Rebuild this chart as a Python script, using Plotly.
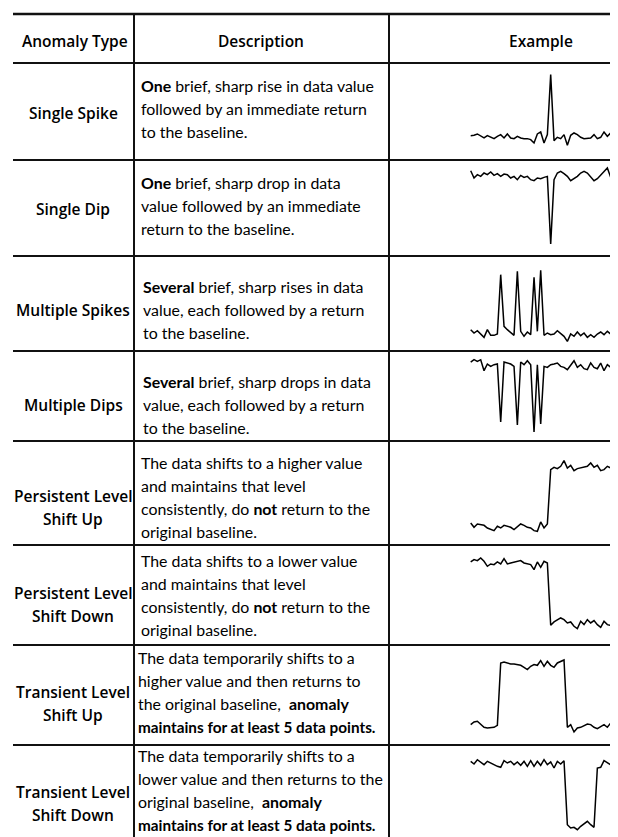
import plotly.graph_objects as go

# ---------------- DATA ----------------
headers = ["Anomaly Type", "Description", "Example"]

anomaly_types = [
    ["Single Spike"],
    ["Single Dip"],
    ["Multiple Spikes"],
    ["Multiple Dips"],
    ["Persistent Level", "Shift Up"],
    ["Persistent Level", "Shift Down"],
    ["Transient Level", "Shift Up"],
    ["Transient Level", "Shift Down"],
]

descriptions = [
    ["<b>One</b> brief, sharp rise in data value",
     "followed by an immediate return",
     "to the baseline."],
    ["<b>One</b> brief, sharp drop in data",
     "value followed by an immediate",
     "return to the baseline."],
    ["<b>Several</b> brief, sharp rises in data",
     "value, each followed by a return",
     "to the baseline."],
    ["<b>Several</b> brief, sharp drops in data",
     "value, each followed by a return",
     "to the baseline."],
    ["The data shifts to a higher value",
     "and maintains that level",
     "consistently, do <b>not</b> return to the",
     "original baseline."],
    ["The data shifts to a lower value",
     "and maintains that level",
     "consistently, do <b>not</b> return to the",
     "original baseline."],
    ["The data temporarily shifts to a",
     "higher value and then returns to",
     "the original baseline,  <b>anomaly</b>",
     "<b>maintains for at least 5 data points.</b>"],
    ["The data temporarily shifts to a",
     "lower value and then returns to the",
     "original baseline,  <b>anomaly</b>",
     "<b>maintains for at least 5 data points.</b>"],
]

single_spike = [2, 3, 7, 0, -5, 2, -3, -7, 0, 5, -5, 7, -5, -7, 0, -5, -7, -7, -10, -20,
                7, 13, -20, 5, 185, -13, -3, -7, 5, -27, 3, 10, 5, -3, -7, -7, -5, 5, -7,
                -3, 13, 0, 10, -10, 5, -7, 0]

single_dip = [12, -10, 0, -5, 5, 0, 8, -2, 3, -5, 2, 0, -10, -5, -15, -2, -8, -5, -15, -18,
              -10, -12, -8, -5, -208, -15, 5, 10, 3, -5, -18, -12, -5, 5, 10, 5, -5, -18,
              -12, -2, 8, 20, -8, 10, 0, 12, -5]

multiple_spikes = [10, 0, 7, -3, -13, 10, -7, -7, -3, 175, 20, 10, 0, -7, 185, 5, -10, 3, -5,
                   167, 5, 188, -7, 0, -5, -3, 7, -3, -10, -25, -3, -10, 3, -8, 0, -13, -5,
                   -13, -3, 3, -5, 5, -3, 3, -3, 5, 0]

multiple_dips = [8, 15, 10, 15, -18, 2, -5, 0, 2, -172, 8, 5, 2, -5, -181, 8, 0, 12, 0, -202,
                 0, -178, -5, -8, 0, 2, 5, -5, -8, -15, -2, 12, -8, 0, -12, -15, 5, -8, -12,
                 5, -18, 0, -8, 2, -10, 8, -15]

persistent_up = [10, -3, 7, 5, 3, -5, -10, -13, 0, -5, 3, 0, -3, -10, 0, 7, 3, -3, -5, -13,
                 -15, 13, -5, 7, 170, 177, 173, 180, 197, 175, 183, 167, 173, 175, 177, 180,
                 190, 177, 183, 167, 170, 180, 175, 185, 173, 180, 167]

persistent_down = [-2, 5, 2, 10, 0, -15, -8, -10, -2, -8, 8, -8, -5, -2, 0, 2, -5, -8, -10,
                   -25, -2, -18, 0, -5, -192, -182, -175, -170, -175, -185, -182, -195, -202,
                   -180, -190, -175, -185, -178, -190, -198, -180, -190, -192, -188, -182,
                   -192, -182]

transient_up = [5, 13, 15, 5, -3, -5, -3, -3, 3, 190, 193, 190, 187, 187, 185, 183, 177, 170,
                180, 185, 183, 197, 180, 195, 183, 177, 190, 195, 199, -3, 5, -17, -5, -3, 3,
                7, 5, -3, -7, 0, 5, -3, 10, -5, 3, 15, 0]

transient_down = [5, -3, 10, 3, -5, 5, 0, -7, -10, -13, 7, 0, 5, -5, 3, -7, 5, -10, 7, -10, 5,
                  -7, 10, -5, 3, -15, 5, -3, 7, -185, -195, -193, -200, -190, -183, -175,
                  -185, -193, -15, -13, 7, 0, -5, -7, -3, -10, -7]

series = [single_spike, single_dip, multiple_spikes, multiple_dips,
          persistent_up, persistent_down, transient_up, transient_down]

# ---------------- LAYOUT (pixels) ----------------
W, H = 618, 837
TOP = 6
HEAD_BOTTOM = 55
ROW_BOTTOMS = [152, 248, 343, 433, 537, 637, 737, 835]
COL_X = [126, 381]
LEFT = 5
BASELINES = [128.3, 166.7, 325, 356.7, 518.3, 553.3, 718.3, 755]
DESC_X = [131, 131, 133, 133, 131, 131, 128, 128]
DESC_OFF = [-3, -2.5, 6, 8, 4, 0, -3, -4]
LAB_OFF = [2, 1, 7, 9, 14, 9, 8, 9]
LINE_H = 23
X0_PX, DX_PX = 462.7, 3.333
UNIT = 3.0  # value units per pixel

def px(x):
    return x / W

def py(y):
    return 1 - y / H

FONT_DESC = "Lato, 'Open Sans', sans-serif"
FONT_HEAD = "'Open Sans', 'Noto Sans', sans-serif"

fig = go.Figure()
annotations = []
shapes = []

# table lines
LC = "#111111"
shapes.append(dict(type="line", xref="paper", yref="paper", x0=px(LEFT), x1=1,
                   y0=py(TOP), y1=py(TOP), line=dict(color=LC, width=2.5)))
for yb in [HEAD_BOTTOM] + ROW_BOTTOMS:
    shapes.append(dict(type="line", xref="paper", yref="paper", x0=px(LEFT), x1=1,
                       y0=py(yb), y1=py(yb), line=dict(color=LC, width=2)))
for xc in COL_X:
    shapes.append(dict(type="line", xref="paper", yref="paper", x0=px(xc), x1=px(xc),
                       y0=py(TOP), y1=py(ROW_BOTTOMS[-1]), line=dict(color=LC, width=2)))

# headers
head_x = [67, 253, 533]
for hx, htxt in zip(head_x, headers):
    annotations.append(dict(x=px(hx), y=py(33), xref="paper", yref="paper", text=htxt,
                            showarrow=False, xanchor="center", yanchor="middle",
                            font=dict(family=FONT_HEAD, size=15.5, color="black", weight=600)))

row_tops = [HEAD_BOTTOM] + ROW_BOTTOMS[:-1]
for r in range(8):
    t, b = row_tops[r], ROW_BOTTOMS[r]
    c = (t + b) / 2
    # anomaly type labels
    labs = anomaly_types[r]
    n = len(labs)
    lab_c = c + LAB_OFF[r]
    for k, lab in enumerate(labs):
        yy = lab_c + (k - (n - 1) / 2) * 23
        annotations.append(dict(x=px(65), y=py(yy), xref="paper", yref="paper", text=lab,
                                showarrow=False, xanchor="center", yanchor="middle",
                                font=dict(family=FONT_HEAD, size=15.5, color="black", weight=600)))
    # descriptions
    lines = descriptions[r]
    n = len(lines)
    d_c = c + DESC_OFF[r]
    for k, ln in enumerate(lines):
        yy = d_c + (k - (n - 1) / 2) * LINE_H
        full_bold = ln.startswith("<b>") and ln.endswith("</b>")
        annotations.append(dict(x=px(DESC_X[r]), y=py(yy), xref="paper", yref="paper", text=ln,
                                showarrow=False, xanchor="left", yanchor="middle", align="left",
                                font=dict(family=FONT_DESC, size=15.3 if full_bold else 15.9,
                                          color="black")))

    # sparkline
    idx = list(range(len(series[r])))
    ax = "" if r == 0 else str(r + 1)
    fig.add_trace(go.Scatter(x=idx, y=series[r], mode="lines",
                             line=dict(color="black", width=1.5),
                             xaxis="x" + ax, yaxis="y" + ax, hoverinfo="skip",
                             showlegend=False))
    bl = BASELINES[r]
    xr = [(COL_X[1] - X0_PX) / DX_PX, (W - X0_PX) / DX_PX]
    yr = [(bl - b) * UNIT, (bl - t) * UNIT]
    fig.layout["xaxis" + ax] = dict(domain=[px(COL_X[1]), 1], range=xr, visible=False,
                                     fixedrange=True, anchor="y" + ax)
    fig.layout["yaxis" + ax] = dict(domain=[py(b), py(t)], range=yr, visible=False,
                                     fixedrange=True, anchor="x" + ax)

fig.update_layout(width=W, height=H, autosize=False,
                  margin=dict(l=0, r=0, t=0, b=0),
                  paper_bgcolor="white", plot_bgcolor="rgba(0,0,0,0)",
                  shapes=shapes, annotations=annotations, showlegend=False)

fig.write_html("out.html", config={"displayModeBar": False})
